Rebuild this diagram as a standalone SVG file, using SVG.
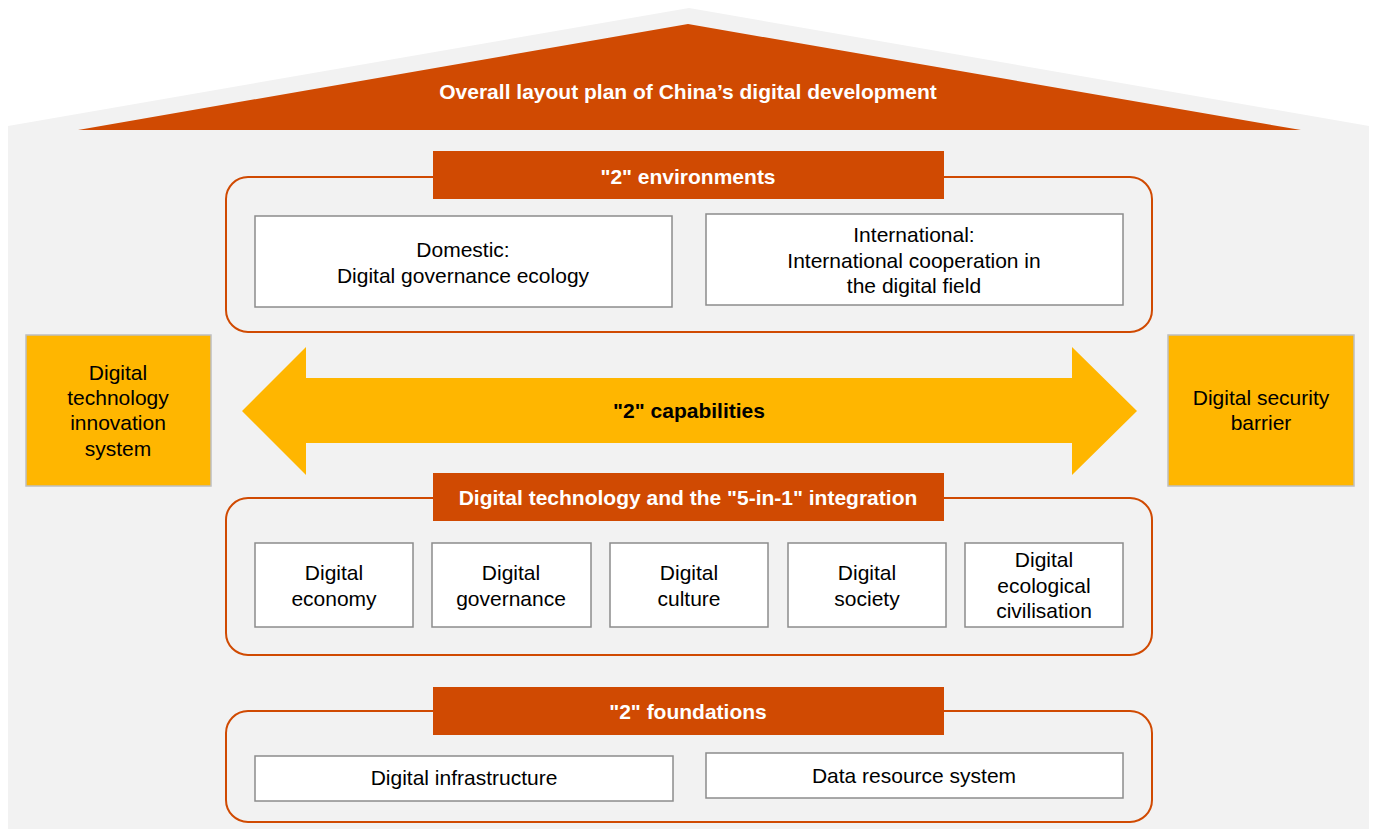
<svg xmlns="http://www.w3.org/2000/svg" width="1373" height="829" viewBox="0 0 1373 829">
  <style>
    .bg { fill: #f2f2f2; }
    .roof { fill: #d04a02; }
    .bar { fill: #d04a02; }
    .panel { fill: none; stroke: #d04a02; stroke-width: 2; }
    .box { fill: #ffffff; stroke: #8c8c8c; stroke-width: 1.5; }
    .pillar { fill: #ffb600; stroke: #bfbfbf; stroke-width: 1.5; }
    .arrow { fill: #ffb600; }
    text { font-family: "Liberation Sans", Arial, sans-serif; font-size: 21px; text-anchor: middle; fill: #000000; }
    .head { font-weight: bold; fill: #ffffff; }
    .bold { font-weight: bold; }
  </style>

  <rect width="1373" height="829" fill="#ffffff"/>

  <!-- house outline -->
  <polygon class="bg" points="8,126 689,8 1369,126 1369,829 8,829"/>

  <!-- roof -->
  <g id="roof">
    <polygon class="roof" points="78,130 688,24 1301,130"/>
    <text class="head" x="688" y="99">Overall layout plan of China’s digital development</text>
  </g>

  <!-- environments -->
  <g id="environments">
    <rect class="panel" x="226" y="177" width="926" height="155" rx="22"/>
    <rect class="bar" x="433" y="151" width="511" height="48"/>
    <text class="head" x="688" y="184">"2" environments</text>
  </g>
  <g id="domestic">
    <rect class="box" x="255" y="216" width="417" height="91"/>
    <text x="463" y="257">Domestic:</text>
    <text x="463" y="283">Digital governance ecology</text>
  </g>
  <g id="international">
    <rect class="box" x="706" y="214" width="417" height="91"/>
    <text x="914" y="242">International:</text>
    <text x="914" y="268">International cooperation in</text>
    <text x="914" y="293">the digital field</text>
  </g>

  <!-- pillars -->
  <g id="innovation">
    <rect class="pillar" x="26" y="335" width="185" height="151"/>
    <text x="118" y="380">Digital</text>
    <text x="118" y="405">technology</text>
    <text x="118" y="430">innovation</text>
    <text x="118" y="456">system</text>
  </g>
  <g id="security">
    <rect class="pillar" x="1168" y="335" width="186" height="151"/>
    <text x="1261" y="405">Digital security</text>
    <text x="1261" y="430">barrier</text>
  </g>

  <!-- capabilities -->
  <g id="connectors">
    <polygon class="arrow" points="242,411 306,347 306,378 1072,378 1072,347 1137,411 1072,475 1072,443 306,443 306,475"/>
  </g>
  <g id="capabilities">
    <text class="bold" x="689" y="418">"2" capabilities</text>
  </g>

  <!-- integration -->
  <g id="integration">
    <rect class="panel" x="226" y="498" width="926" height="157" rx="22"/>
    <rect class="bar" x="433" y="473" width="511" height="48"/>
    <text class="head" x="688" y="505">Digital technology and the "5-in-1" integration</text>
  </g>
  <g id="economy">
    <rect class="box" x="255" y="543" width="158" height="84"/>
    <text x="334" y="580">Digital</text>
    <text x="334" y="606">economy</text>
  </g>
  <g id="governance">
    <rect class="box" x="432" y="543" width="159" height="84"/>
    <text x="511" y="580">Digital</text>
    <text x="511" y="606">governance</text>
  </g>
  <g id="culture">
    <rect class="box" x="610" y="543" width="158" height="84"/>
    <text x="689" y="580">Digital</text>
    <text x="689" y="606">culture</text>
  </g>
  <g id="society">
    <rect class="box" x="788" y="543" width="158" height="84"/>
    <text x="867" y="580">Digital</text>
    <text x="867" y="606">society</text>
  </g>
  <g id="ecology">
    <rect class="box" x="965" y="543" width="158" height="84"/>
    <text x="1044" y="567">Digital</text>
    <text x="1044" y="593">ecological</text>
    <text x="1044" y="618">civilisation</text>
  </g>

  <!-- foundations -->
  <g id="foundations">
    <rect class="panel" x="226" y="711" width="926" height="111" rx="22"/>
    <rect class="bar" x="433" y="687" width="511" height="48"/>
    <text class="head" x="688" y="719">"2" foundations</text>
  </g>
  <g id="infrastructure">
    <rect class="box" x="255" y="756" width="418" height="45"/>
    <text x="464" y="785">Digital infrastructure</text>
  </g>
  <g id="data">
    <rect class="box" x="706" y="753" width="417" height="45"/>
    <text x="914" y="783">Data resource system</text>
  </g>
</svg>
